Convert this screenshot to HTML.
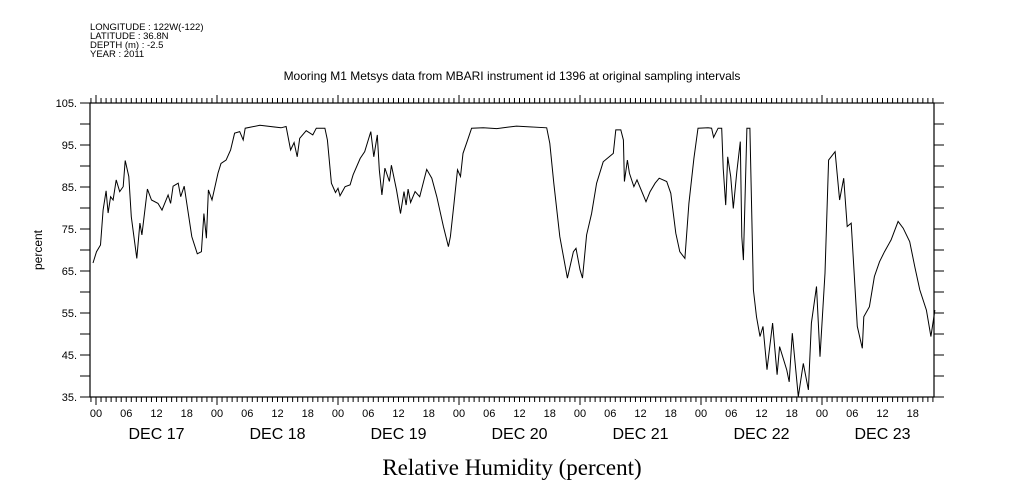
<!DOCTYPE html>
<html><head><meta charset="utf-8"><style>
body{margin:0;background:#fff;}
svg{display:block;font-family:"Liberation Sans",sans-serif;}
</style></head><body>
<svg id="chart" width="1009" height="504" viewBox="0 0 1009 504">
<g font-size="9.5" fill="#000">
<text x="90" y="30">LONGITUDE : 122W(-122)</text>
<text x="90" y="39">LATITUDE : 36.8N</text>
<text x="90" y="48">DEPTH (m) : -2.5</text>
<text x="90" y="57">YEAR : 2011</text>
</g>
<text x="512" y="80" font-size="12" text-anchor="middle">Mooring M1 Metsys data from MBARI instrument id 1396 at original sampling intervals</text>
<text transform="translate(42,250) rotate(-90)" font-size="12" text-anchor="middle">percent</text>
<text x="512" y="475" font-family="Liberation Serif,serif" font-size="23" text-anchor="middle">Relative Humidity (percent)</text>
<g id="axes"></g>
<g id="series"></g>
</svg>
<script>
const hours=[-0.6,0.1,0.9,1.4,2.0,2.4,2.9,3.4,4.0,4.7,5.4,5.8,6.5,7.0,7.7,8.1,8.7,9.1,10.2,11.0,12.3,13.1,14.3,14.8,15.3,16.3,16.8,17.5,18.2,19.0,20.1,20.9,21.4,21.9,22.3,23.0,24.2,24.8,25.8,26.7,27.5,28.5,29.2,29.6,32.5,36.7,37.7,38.6,39.3,39.9,40.4,41.7,43.0,43.7,45.4,45.9,46.7,47.5,48.0,48.4,49.4,50.4,51.0,52.4,53.3,54.5,55.1,55.8,56.2,56.7,57.3,58.2,58.6,59.6,60.4,61.1,61.5,61.9,62.4,63.3,64.2,65.6,66.6,67.6,68.9,69.9,70.3,71.0,71.7,72.3,72.8,73.6,74.5,76.8,79.5,83.4,89.4,90.0,90.8,92.0,93.5,94.7,95.2,96.0,96.5,97.3,98.3,99.3,100.6,102.6,103.1,104.1,104.6,104.8,105.4,105.8,106.7,107.3,109.1,109.9,110.9,111.7,113.2,114.0,115.0,115.8,116.8,117.6,118.6,119.4,121.4,122.1,122.5,123.4,124.1,124.4,124.9,125.3,125.9,126.4,127.1,127.8,128.1,128.4,129.1,129.7,130.4,131.0,131.7,132.3,133.1,134.2,135.1,135.6,137.0,137.5,138.1,139.3,140.3,141.3,141.9,142.9,143.6,144.6,145.3,146.6,147.5,148.3,149.0,149.8,151.0,152.0,152.3,153.4,154.4,155.4,156.4,157.7,159.1,160.1,161.4,162.4,163.4,164.7,165.6,166.4];
const values=[66.9,69.6,71.2,79.5,84.1,78.8,82.7,81.9,86.7,83.9,85.1,91.3,87.5,77.9,71.6,68.0,76.4,73.6,84.5,81.9,81.1,79.5,83.1,81.1,85.2,85.9,82.7,85.2,79.5,73.2,69.1,69.6,78.7,72.8,84.3,81.9,88.3,90.6,91.4,93.8,97.8,98.2,96.2,99.0,99.7,99.1,99.4,93.8,95.6,92.2,96.6,98.4,97.4,99.0,99.0,96.2,85.9,83.7,84.7,82.9,85.1,85.5,87.9,91.8,93.4,98.2,92.2,97.4,89.1,83.1,89.5,86.3,90.2,84.3,78.7,83.9,80.7,84.5,81.3,83.9,82.7,89.2,87.1,82.7,75.6,70.8,73.2,81.1,89.1,87.5,93.0,95.8,99.0,99.1,98.9,99.5,99.1,95.4,85.9,73.2,63.3,69.6,70.4,65.3,63.3,73.6,78.7,85.9,91.0,93.0,98.6,98.6,96.2,86.3,91.4,88.3,85.1,86.7,81.5,83.9,85.9,87.1,86.3,83.5,74.0,69.6,68.0,81.1,91.8,99.0,99.1,99.0,96.8,99.0,99.0,89.5,80.7,92.2,87.5,79.9,88.6,95.8,73.2,67.6,99.0,99.0,60.5,54.1,49.4,51.8,41.5,52.6,40.3,47.0,41.5,38.6,50.2,35.1,43.0,36.7,52.6,61.3,44.6,64.5,91.4,93.4,81.9,87.1,75.6,76.4,51.8,46.6,54.1,56.5,63.7,67.2,69.6,72.4,76.8,75.2,72.0,66.0,60.5,55.7,49.4,55.7];
const yTicks=[35,45,55,65,75,85,95,105];
const dayLabels=["DEC 17","DEC 18","DEC 19","DEC 20","DEC 21","DEC 22","DEC 23"];
const hourLabels=["00","06","12","18"];

const L=90,R=934,T=103,B=397;
const xS=h=>96+h*121/24;
const yS=v=>T+(105-v)*(B-T)/70;
const NS="http://www.w3.org/2000/svg";
const ax=document.getElementById('axes'),se=document.getElementById('series');
function mk(p,tag,at){const e=document.createElementNS(NS,tag);for(const k in at)e.setAttribute(k,at[k]);p.appendChild(e);return e;}
const frame=mk(ax,'rect',{x:L,y:T,width:R-L,height:B-T,fill:'none',stroke:'#000','stroke-width':1.2});


for(let v=35;v<=105;v+=5){const y=yS(v);
 mk(ax,'line',{x1:L-10,x2:L,y1:y,y2:y,stroke:'#000'});
 mk(ax,'line',{x1:R,x2:R+10,y1:y,y2:y,stroke:'#000'});}
yTicks.forEach(v=>{const t=mk(ax,'text',{x:L-13,y:yS(v)+4,'font-size':11,'text-anchor':'end'});t.textContent=v+'.';
 
 });
for(let h=-1;h<=166;h++){const x=xS(h);if(x<L||x>R)continue;const major=((h%24)+24)%24===0;const len=major?8:5;
 mk(ax,'line',{x1:x,x2:x,y1:B,y2:B+len,stroke:'#000'});
 mk(ax,'line',{x1:x,x2:x,y1:T,y2:T-len,stroke:'#000'});
 if(h>=0&&h%6===0){const t=mk(ax,'text',{x:x,y:B+20,'font-size':11,'text-anchor':'middle'});t.textContent=hourLabels[(h%24)/6];
  
  }}
dayLabels.forEach((d,i)=>{const t=mk(ax,'text',{x:xS(i*24+12),y:B+42,'font-size':16,'text-anchor':'middle'});t.textContent=d;
 
 });
const pts=hours.map((h,i)=>xS(h).toFixed(1)+','+yS(values[i]).toFixed(1)).join(' ');
const line=mk(se,'polyline',{points:pts,fill:'none',stroke:'#000','stroke-width':1});


</script>
</body></html>
